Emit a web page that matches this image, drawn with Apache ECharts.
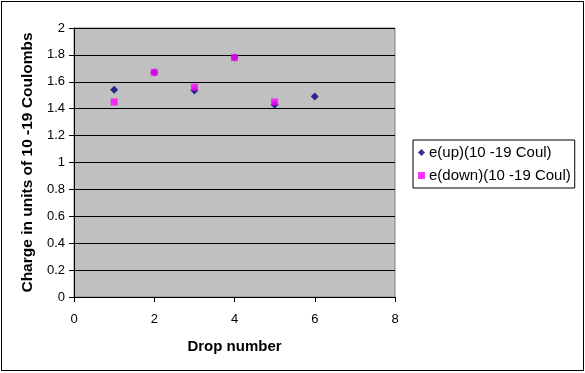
<!DOCTYPE html>
<html><head><meta charset="utf-8">
<script src="https://cdn.jsdelivr.net/npm/echarts@6/dist/echarts.min.js"></script>
<style>html,body{margin:0;padding:0;background:#fff}#c{width:585px;height:373px}
#frame{position:absolute;left:1px;top:1px;width:581px;height:368px;border:1px solid #000;pointer-events:none}</style>
</head><body><div id="c"></div><div id="frame"></div>
<script>
const dropUp = [1, 2, 3, 4, 5, 6];
const eUp = [1.54, 1.67, 1.535, 1.78, 1.43, 1.49];
const dropDown = [1, 2, 3, 4, 5];
const eDown = [1.45, 1.67, 1.56, 1.78, 1.45];
const seriesNames = ['e(up)(10 -19 Coul)', 'e(down)(10 -19 Coul)'];
const xTitle = 'Drop number';
const yTitle = 'Charge in units of 10 -19 Coulombs';

const chart = echarts.init(document.getElementById('c'));
const font = 'Arial, "Liberation Sans", sans-serif';
chart.setOption({
  animation: false,
  grid: {left: 74, top: 28, width: 321, height: 269, show: true, backgroundColor: '#C0C0C0', borderColor: '#808080', borderWidth: 1},
  legend: {
    orient: 'vertical', left: 413, top: 140,
    itemWidth: 7, itemHeight: 7, itemGap: 8,
    padding: [5, 4, 5, 5],
    borderColor: '#000', borderWidth: 1,
    textStyle: {fontFamily: font, fontSize: 15, color: '#000', padding: [0, 0, 0, -1]},
    data: [{name: seriesNames[0], icon: 'diamond'}, {name: seriesNames[1], icon: 'rect'}]
  },
  xAxis: {
    type: 'value', min: 0, max: 8, interval: 2,
    name: xTitle, nameLocation: 'middle', nameGap: 42,
    nameTextStyle: {fontFamily: font, fontSize: 15, fontWeight: 'bold', color: '#000'},
    axisLine: {show: true, lineStyle: {color: '#000'}},
    axisTick: {show: true, inside: false, length: 5, lineStyle: {color: '#000'}},
    axisLabel: {fontFamily: font, fontSize: 13, color: '#000', margin: 16},
    splitLine: {show: false}
  },
  yAxis: {
    type: 'value', min: 0, max: 2, interval: 0.2,
    name: yTitle, nameLocation: 'middle', nameGap: 30,
    nameTextStyle: {fontFamily: font, fontSize: 15.5, fontWeight: 'bold', color: '#000'},
    axisLine: {show: true, lineStyle: {color: '#000'}},
    axisTick: {show: true, inside: false, length: 5, lineStyle: {color: '#000'}},
    axisLabel: {fontFamily: font, fontSize: 13, color: '#000', margin: 9,
      formatter: v => String(Math.round(v * 10) / 10)},
    splitLine: {show: true, lineStyle: {color: '#000', width: 1}}
  },
  series: [
    {name: seriesNames[0], type: 'scatter', symbol: 'diamond', symbolSize: 8,
     itemStyle: {color: '#000080'}, data: dropUp.map((x, i) => [x, eUp[i]])},
    {name: seriesNames[1], type: 'scatter', symbol: 'rect', symbolSize: 7,
     itemStyle: {color: '#FF00FF'}, data: dropDown.map((x, i) => [x, eDown[i]])}
  ]
});
</script></body></html>
